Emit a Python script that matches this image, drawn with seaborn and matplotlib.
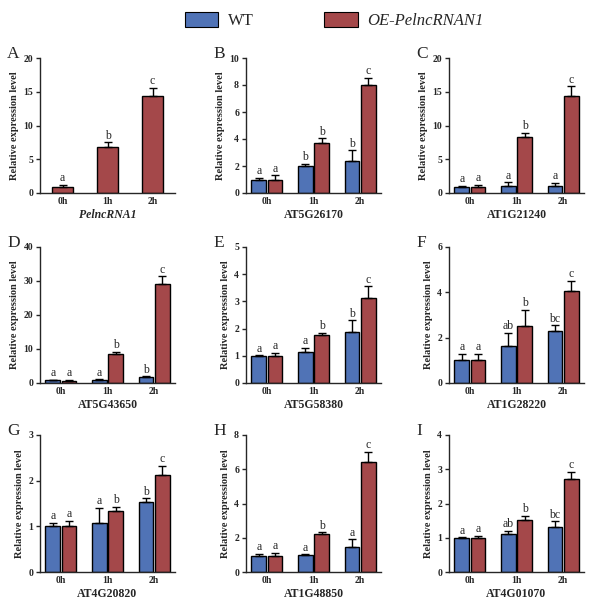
import numpy as np
import pandas as pd
import matplotlib.pyplot as plt
import seaborn as sns
from matplotlib.patches import Patch

sns.set_style("ticks")
plt.rcParams['font.family'] = ['Liberation Serif', 'DejaVu Serif']

times = ["0h", "1h", "2h"]
panels = ["A", "B", "C", "D", "E", "F", "G", "H", "I"]
genes = ["PelncRNA1", "AT5G26170", "AT1G21240", "AT5G43650", "AT5G58380",
         "AT1G28220", "AT4G20820", "AT1G48850", "AT4G01070"]

# panel A has no WT series
wt_mean = [None, [1.0, 2.0, 2.4], [0.9, 1.0, 1.0], [0.8, 0.8, 1.7],
           [0.98, 1.15, 1.87], [1.0, 1.65, 2.3], [1.0, 1.08, 1.54],
           [0.95, 0.97, 1.45], [0.98, 1.12, 1.3]]
wt_sd = [None, [0.1, 0.15, 0.75], [0.15, 0.6, 0.5], [0.2, 0.3, 0.3],
         [0.04, 0.15, 0.43], [0.3, 0.57, 0.25], [0.08, 0.32, 0.07],
         [0.1, 0.06, 0.45], [0.03, 0.08, 0.18]]
oe_mean = [[0.9, 6.8, 14.4], [1.0, 3.7, 8.0], [0.9, 8.3, 14.4],
           [0.7, 8.6, 29.0], [0.98, 1.75, 3.12], [1.0, 2.5, 4.07],
           [1.0, 1.33, 2.13], [0.95, 2.22, 6.4], [0.98, 1.52, 2.72]]
oe_sd = [[0.3, 0.7, 1.2], [0.3, 0.35, 0.55], [0.3, 0.6, 1.4],
         [0.2, 0.6, 2.4], [0.12, 0.1, 0.43], [0.3, 0.73, 0.45],
         [0.12, 0.09, 0.2], [0.15, 0.1, 0.6], [0.07, 0.12, 0.2]]
wt_letters = [None, ["a", "b", "b"], ["a", "a", "a"], ["a", "a", "b"],
              ["a", "a", "b"], ["a", "ab", "bc"], ["a", "a", "b"],
              ["a", "a", "a"], ["a", "ab", "bc"]]
oe_letters = [["a", "b", "c"], ["a", "b", "c"], ["a", "b", "c"],
              ["a", "b", "c"], ["a", "b", "c"], ["a", "b", "c"],
              ["a", "b", "c"], ["a", "b", "c"], ["a", "b", "c"]]
y_max = [20, 10, 20, 40, 5, 6, 3, 8, 4]
y_step = [5, 2, 5, 10, 1, 2, 1, 2, 1]

c_wt = "#5073B6"
c_oe = "#A4484A"

W, H = 589, 600
fig = plt.figure(figsize=(W / 100, H / 100), dpi=100)

lefts = [40, 246, 449]
tops = [58, 247, 435]
bottoms = [193, 383, 572]
aw = 135

for i, p in enumerate(panels):
    r, c = divmod(i, 3)
    ax = fig.add_axes([lefts[c] / W, 1 - bottoms[r] / H, aw / W,
                       (bottoms[r] - tops[r]) / H])
    if wt_mean[i] is None:
        df = pd.DataFrame({"time": times, "value": oe_mean[i]})
        sns.barplot(data=df, x="time", y="value", color=c_oe, width=0.47,
                    edgecolor="black", linewidth=1, errorbar=None,
                    saturation=1, ax=ax)
        series = [(oe_mean[i], oe_sd[i], oe_letters[i])]
        ax.set_xlim(-0.5, 2.5)
    else:
        df = pd.DataFrame({
            "time": times * 2,
            "value": wt_mean[i] + oe_mean[i],
            "line": ["WT"] * 3 + ["OE"] * 3,
        })
        sns.barplot(data=df, x="time", y="value", hue="line",
                    palette=[c_wt, c_oe], width=0.7, gap=0.1,
                    edgecolor="black", linewidth=1, errorbar=None,
                    saturation=1, legend=False, ax=ax)
        series = [(wt_mean[i], wt_sd[i], wt_letters[i]),
                  (oe_mean[i], oe_sd[i], oe_letters[i])]
        ax.set_xlim(-0.45, 2.45)

    for cont, (m, s, lt) in zip(ax.containers, series):
        xs = [b.get_x() + b.get_width() / 2 for b in cont]
        ax.errorbar(xs, m, yerr=[np.zeros(3), s], fmt="none", ecolor="black",
                    elinewidth=1, capsize=3, capthick=1)
        for x, mm, ss, l in zip(xs, m, s, lt):
            ax.text(x, mm + ss + y_max[i] * 0.005, l, ha="center",
                    va="bottom", fontsize=8.5)

    ax.set_ylim(0, y_max[i])
    ax.set_yticks(np.arange(0, y_max[i] + y_step[i] / 2, y_step[i]))
    ax.set_ylabel("Relative expression level", fontsize=7.5,
                  fontweight="bold", labelpad=3)
    ax.set_xlabel(genes[i], fontsize=8.5, fontweight="bold", labelpad=2,
                  fontstyle="italic" if i == 0 else "normal")
    ax.tick_params(axis="y", direction="out", length=3, width=1, pad=2,
                   labelsize=7)
    ax.tick_params(axis="x", length=0, pad=3, labelsize=7)
    for t in ax.get_xticklabels() + ax.get_yticklabels():
        t.set_fontweight("bold")
    sns.despine(ax=ax)
    for sp in ["left", "bottom"]:
        ax.spines[sp].set_linewidth(1)

    fig.text((lefts[c] - 33) / W, 1 - (tops[r] - 12) / H, p,
             fontsize=12.5, va="top", ha="left")

handles = [Patch(facecolor=c_wt, edgecolor="black", linewidth=0.8),
           Patch(facecolor=c_oe, edgecolor="black", linewidth=0.8)]
leg = fig.legend(handles, ["WT", "OE-PelncRNAN1"], loc="upper center",
                 bbox_to_anchor=(0.568, 1.005), ncol=2, frameon=False,
                 fontsize=12, handlelength=2.0, handleheight=1.0,
                 handletextpad=0.6, columnspacing=4.2)
leg.get_texts()[1].set_fontstyle("italic")

fig.savefig("out.png", dpi=100)
